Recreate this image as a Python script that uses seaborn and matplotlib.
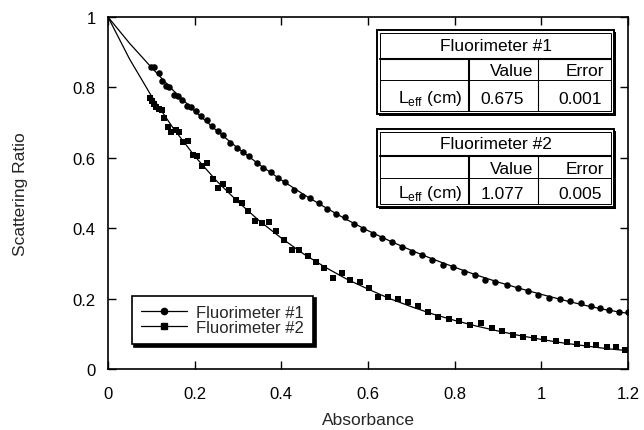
import numpy as np
import pandas as pd
import matplotlib
matplotlib.use("Agg")
import matplotlib.pyplot as plt
from matplotlib.lines import Line2D
from matplotlib.patches import Rectangle
import seaborn as sns

# Measured scattering ratios, fluorimeter #1
abs1 = [0.100, 0.105, 0.117, 0.124, 0.133, 0.141, 0.152, 0.161, 0.171, 0.183, 0.192,
        0.202, 0.215, 0.228, 0.241, 0.253, 0.266, 0.282, 0.297, 0.311, 0.326, 0.343,
        0.358, 0.376, 0.393, 0.409, 0.430, 0.448, 0.466, 0.486, 0.506, 0.527, 0.547,
        0.568, 0.589, 0.612, 0.633, 0.656, 0.679, 0.701, 0.724, 0.747, 0.772, 0.797,
        0.822, 0.847, 0.870, 0.893, 0.920, 0.945, 0.970, 0.993, 1.018, 1.042, 1.066,
        1.091, 1.114, 1.135, 1.157, 1.180, 1.201]
ratio1 = [0.857, 0.857, 0.841, 0.819, 0.803, 0.800, 0.779, 0.775, 0.765, 0.748, 0.745,
          0.732, 0.718, 0.708, 0.689, 0.675, 0.666, 0.642, 0.628, 0.616, 0.606, 0.585,
          0.570, 0.559, 0.543, 0.531, 0.509, 0.492, 0.485, 0.472, 0.455, 0.440, 0.431,
          0.412, 0.398, 0.383, 0.371, 0.362, 0.348, 0.333, 0.324, 0.310, 0.295, 0.289,
          0.276, 0.267, 0.253, 0.246, 0.239, 0.229, 0.222, 0.210, 0.201, 0.199, 0.194,
          0.188, 0.178, 0.172, 0.168, 0.163, 0.161]

# Measured scattering ratios, fluorimeter #2
abs2 = [0.097, 0.101, 0.105, 0.111, 0.118, 0.124, 0.130, 0.138, 0.145, 0.158, 0.164,
        0.174, 0.184, 0.197, 0.206, 0.216, 0.228, 0.243, 0.253, 0.266, 0.279, 0.295,
        0.310, 0.322, 0.339, 0.356, 0.372, 0.388, 0.405, 0.424, 0.441, 0.461, 0.479,
        0.499, 0.519, 0.539, 0.559, 0.582, 0.603, 0.624, 0.647, 0.669, 0.692, 0.716,
        0.739, 0.762, 0.787, 0.811, 0.835, 0.860, 0.886, 0.909, 0.935, 0.958, 0.983,
        1.006, 1.033, 1.059, 1.082, 1.105, 1.126, 1.151, 1.172, 1.193]
ratio2 = [0.770, 0.762, 0.753, 0.743, 0.739, 0.736, 0.713, 0.687, 0.672, 0.679, 0.672,
          0.644, 0.649, 0.608, 0.604, 0.578, 0.585, 0.540, 0.514, 0.526, 0.509, 0.481,
          0.473, 0.450, 0.421, 0.415, 0.418, 0.391, 0.366, 0.338, 0.338, 0.320, 0.305,
          0.287, 0.259, 0.273, 0.253, 0.248, 0.230, 0.205, 0.204, 0.199, 0.191, 0.178,
          0.161, 0.149, 0.142, 0.137, 0.125, 0.131, 0.116, 0.109, 0.097, 0.092, 0.088,
          0.085, 0.080, 0.076, 0.071, 0.069, 0.069, 0.063, 0.063, 0.055]

# Fitted curves
fit_abs = [0.00, 0.05, 0.10, 0.15, 0.20, 0.25, 0.30, 0.35, 0.40, 0.45, 0.50, 0.55, 0.60,
           0.65, 0.70, 0.75, 0.80, 0.85, 0.90, 0.95, 1.00, 1.05, 1.10, 1.15, 1.20]
fit1 = [1.000, 0.925, 0.857, 0.792, 0.733, 0.678, 0.627, 0.580, 0.537, 0.497, 0.460,
        0.425, 0.393, 0.364, 0.337, 0.312, 0.289, 0.267, 0.247, 0.229, 0.212, 0.196,
        0.181, 0.168, 0.158]
fit2 = [1.000, 0.880, 0.776, 0.685, 0.605, 0.535, 0.475, 0.420, 0.372, 0.328, 0.290,
        0.256, 0.227, 0.200, 0.177, 0.156, 0.138, 0.122, 0.108, 0.095, 0.084, 0.074,
        0.066, 0.058, 0.052]

series_names = ["Fluorimeter #1", "Fluorimeter #2"]
leff_values = ["0.675", "1.077"]
leff_errors = ["0.001", "0.005"]

xticks = [0, 0.2, 0.4, 0.6, 0.8, 1.0, 1.2]
xtick_labels = ["0", "0.2", "0.4", "0.6", "0.8", "1", "1.2"]
yticks = [0, 0.2, 0.4, 0.6, 0.8, 1.0]
ytick_labels = ["0", "0.2", "0.4", "0.6", "0.8", "1"]

sns.set_style("ticks")
plt.rcParams["font.family"] = ["Liberation Sans", "DejaVu Sans"]
plt.rcParams["mathtext.fontset"] = "custom"
plt.rcParams["mathtext.rm"] = "Liberation Sans"

W, H = 644, 431
fig = plt.figure(figsize=(W / 100, H / 100), dpi=100)
ax = fig.add_axes([108 / W, 1 - 370 / H, 520 / W, 352 / H])

pts1 = pd.DataFrame({"Absorbance": abs1, "Scattering Ratio": ratio1})
pts2 = pd.DataFrame({"Absorbance": abs2, "Scattering Ratio": ratio2})
fits = pd.DataFrame({"Absorbance": fit_abs, "f1": fit1, "f2": fit2})

sns.lineplot(data=fits, x="Absorbance", y="f1", ax=ax, color="black", lw=0.9)
sns.lineplot(data=fits, x="Absorbance", y="f2", ax=ax, color="black", lw=0.9)
sns.scatterplot(data=pts1, x="Absorbance", y="Scattering Ratio", ax=ax,
                marker="o", s=22, color="black", edgecolor="black", linewidth=0)
sns.scatterplot(data=pts2, x="Absorbance", y="Scattering Ratio", ax=ax,
                marker="s", s=24, color="black", edgecolor="black", linewidth=0)

ax.set_xlim(0, 1.2)
ax.set_ylim(0, 1.0)
ax.set_xticks(xticks)
ax.set_xticklabels(xtick_labels)
ax.set_yticks(yticks)
ax.set_yticklabels(ytick_labels)
ax.tick_params(direction="in", length=6, width=1, top=True, right=True,
               labelsize=12, colors="black")
ax.tick_params(axis="x", pad=12)
ax.tick_params(axis="y", pad=9)
for sp in ax.spines.values():
    sp.set_visible(True)
    sp.set_linewidth(1.2)
    sp.set_color("black")
ax.set_xlabel("Absorbance", fontsize=12.5, labelpad=8.5)
ax.set_ylabel("Scattering Ratio", fontsize=12.5, labelpad=32)

handles = [
    Line2D([], [], color="black", lw=0.9, marker="o", markersize=4.5),
    Line2D([], [], color="black", lw=0.9, marker="s", markersize=4.5),
]
leg = ax.legend(handles, series_names, loc="lower left",
                bbox_to_anchor=(0.0456, 0.071), frameon=True, fancybox=False,
                edgecolor="black", fontsize=12, handlelength=2.75,
                handletextpad=0.55, borderpad=0.55, labelspacing=0.0,
                borderaxespad=0.0,
                shadow={"ox": 2, "oy": -2, "color": "black", "alpha": 1})
leg.get_frame().set_linewidth(1.2)


def fx(px):
    return px / W


def fy(py):
    return 1 - py / H


def rect(x0, y0, x1, y1, **kw):
    fig.patches.append(Rectangle((fx(x0), fy(y1)), fx(x1) - fx(x0), fy(y0) - fy(y1),
                                 transform=fig.transFigure, **kw))


def hline(x0, x1, y, lw=1.0):
    fig.lines.append(Line2D([fx(x0), fx(x1)], [fy(y), fy(y)], color="black", lw=lw,
                            transform=fig.transFigure))


def vline(x, y0, y1, lw=1.0):
    fig.lines.append(Line2D([fx(x), fx(x)], [fy(y0), fy(y1)], color="black", lw=lw,
                            transform=fig.transFigure))


def result_box(top, r1, r2, bottom, name, value, error):
    left, right = 377, 614
    c1, c2 = 469, 538
    rect(left + 2, top + 2, right + 2, bottom + 2, facecolor="black", edgecolor="none")
    rect(left, top, right, bottom, facecolor="white", edgecolor="black", lw=1.4)
    rect(left + 3, top + 3, right - 3, bottom - 3, facecolor="none", edgecolor="black", lw=0.7)
    hline(left + 3, right - 3, r1, lw=1.5)
    hline(left + 3, right - 3, r2, lw=0.7)
    vline(c1, r1, bottom - 3, lw=1.5)
    vline(c2, r1, bottom - 3, lw=0.8)
    kw = dict(transform=fig.transFigure, fontsize=12.5, va="center", color="black")
    fig.text(fx((left + right) / 2), fy((top + r1) / 2 + 1), name, ha="center", **kw)
    fig.text(fx(533), fy((r1 + r2) / 2 + 1), "Value", ha="right", **kw)
    fig.text(fx(604), fy((r1 + r2) / 2 + 1), "Error", ha="right", **kw)
    fig.text(fx(462), fy((r2 + bottom) / 2), r"L$_{\mathrm{eff}}$ (cm)", ha="right", **kw)
    fig.text(fx(502), fy((r2 + bottom) / 2 + 1), value, ha="center", **kw)
    fig.text(fx(602), fy((r2 + bottom) / 2 + 1), error, ha="right", **kw)


result_box(31, 60, 81, 115, series_names[0], leff_values[0], leff_errors[0])
result_box(130, 157, 179, 208, series_names[1], leff_values[1], leff_errors[1])

fig.savefig("out.png", dpi=100)
